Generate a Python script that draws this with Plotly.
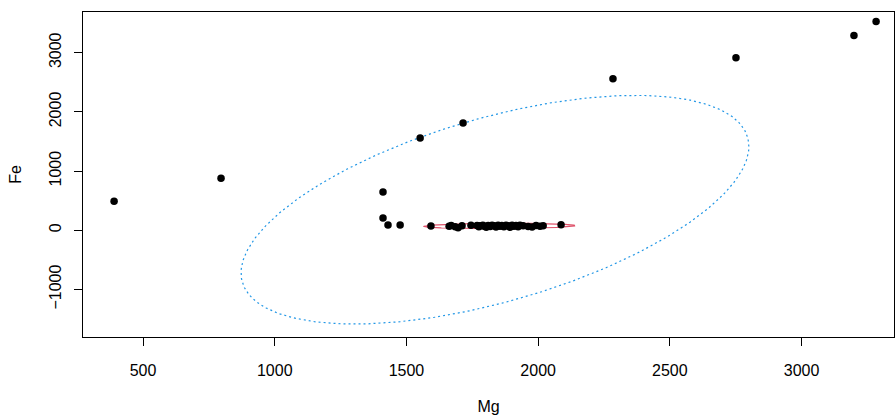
import numpy as np
import plotly.graph_objects as go

# Observations (Mg, Fe)
mg_out = [390, 796, 1411, 1411, 1430, 1476, 1552, 1715, 2284, 2751, 3199, 3283]
fe_out = [491, 881, 647, 208, 90, 90, 1559, 1812, 2559, 2915, 3288, 3525]

mg_cluster = [1593, 1662, 1670, 1685, 1696, 1711, 1745, 1768, 1775, 1779, 1790, 1795,
              1803, 1810, 1818, 1825, 1833, 1840, 1848, 1855, 1862, 1870, 1878, 1886,
              1893, 1901, 1908, 1916, 1924, 1931, 1943, 1962, 1977, 1992, 2007, 2019, 2087]
fe_cluster = [73, 70, 80, 60, 45, 75, 85, 80, 60, 75, 85, 70,
              50, 80, 65, 85, 75, 55, 85, 70, 80, 60, 85, 75,
              50, 85, 70, 80, 60, 85, 75, 65, 55, 80, 70, 75, 95]

# Tolerance ellipses: center, semi-extent along Mg, semi-extent along Fe, correlation
classical = dict(center=(1836, 348), a=964, b=1931, rho=0.553)
robust = dict(center=(1853, 73), a=287, b=46, rho=0.12)

x_ticks = [500, 1000, 1500, 2000, 2500, 3000]
y_ticks = [-1000, 0, 1000, 2000, 3000]


def ellipse(p, n=400):
    t = np.linspace(0, 2 * np.pi, n)
    cx, cy = p["center"]
    x = cx + p["a"] * np.cos(t)
    y = cy + p["b"] * (p["rho"] * np.cos(t) + np.sqrt(1 - p["rho"] ** 2) * np.sin(t))
    return x, y


fig = go.Figure()
ex, ey = ellipse(classical)
fig.add_trace(go.Scatter(x=ex, y=ey, mode="lines",
                         line=dict(color="#2297E6", width=1.2, dash="2px,3px"),
                         hoverinfo="skip"))
rx, ry = ellipse(robust)
fig.add_trace(go.Scatter(x=rx, y=ry, mode="lines",
                         line=dict(color="#DF536B", width=1.2),
                         hoverinfo="skip"))
fig.add_trace(go.Scatter(x=mg_out + mg_cluster, y=fe_out + fe_cluster, mode="markers",
                         marker=dict(color="black", size=7.5)))

font = dict(family="Liberation Sans, Arial, sans-serif", size=16, color="black")
fig.update_layout(
    width=895, height=417,
    margin=dict(l=83, r=1, t=12, b=80),
    paper_bgcolor="white", plot_bgcolor="white",
    showlegend=False,
    font=font,
)
fig.update_xaxes(range=[272, 3351], tickvals=x_ticks, ticks="outside", ticklen=8,
                 tickcolor="black", showgrid=False, zeroline=False,
                 showline=True, mirror=True, linecolor="black", linewidth=1,
                 ticklabelstandoff=11, automargin=False,
                 title=dict(text="Mg", standoff=22, font=font), tickfont=font)
fig.update_yaxes(range=[-1802, 3687], tickvals=y_ticks, ticks="outside", ticklen=8,
                 tickcolor="black", showgrid=False, zeroline=False,
                 showline=True, mirror=True, linecolor="black", linewidth=1,
                 tickangle=-90, ticklabelstandoff=7, automargin=False,
                 title=dict(text="Fe", standoff=20, font=font), tickfont=font)

fig.write_html("out.html",
               config={"displayModeBar": False},
               post_script="document.body.style.margin='0';document.body.style.overflow='hidden';")
